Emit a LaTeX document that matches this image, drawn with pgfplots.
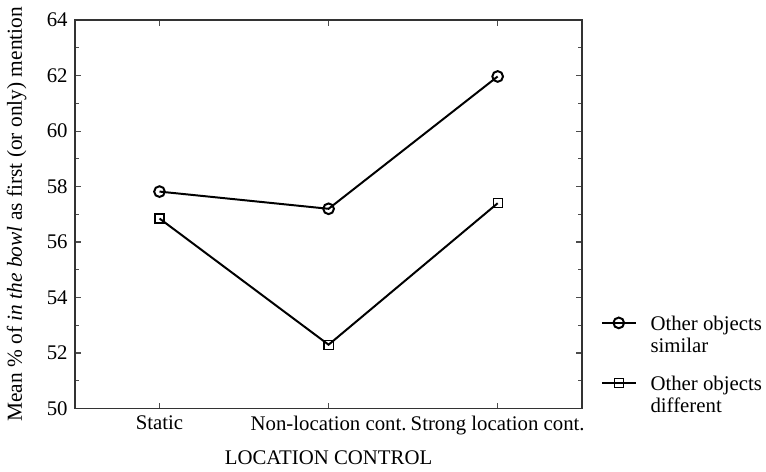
\documentclass[border=0pt]{standalone}
\usepackage{fontspec}
\setmainfont{Liberation Serif}
\usepackage{pgfplots}
\pgfplotsset{compat=1.18}

\pgfplotstableread{
x  y
0  57.82
1  57.20
2  61.97
}\similar
\pgfplotstableread{
x  y
0  56.85
1  52.30
2  57.40
}\different

% two-line legend text, baseline on the first line
\newcommand{\entry}[2]{\begin{tabular}[t]{@{\hspace{5pt}}l@{}}#1\\[-1pt]#2\end{tabular}}

\begin{document}
\fontsize{10.5}{12.5}\selectfont
\begin{tikzpicture}
\begin{axis}[
    scale only axis,
    width=256pt, height=196pt,
    xmin=-0.5, xmax=2.5,
    ymin=50, ymax=64,
    xtick={0,1,2},
    xticklabels={Static, Non-location cont., Strong location cont.},
    ytick={50,52,...,64},
    minor y tick num=1,
    tick align=inside,
    major tick length=3pt, minor tick length=2pt,
    every tick/.style={black!70, line width=0.6pt},
    axis line style={black!80, line width=0.9pt},
    /pgf/number format/assume math mode=true,
    ylabel={Mean \% of \textit{in the bowl} as first (or only) mention},
    ylabel style={yshift=3pt, font=\fontsize{10.8}{12}\selectfont},
    xlabel={LOCATION CONTROL},
    xlabel style={yshift=-1pt},
    legend style={at={(1.036,0.258)}, anchor=north west, draw=none, fill=none,
        inner sep=0pt, row sep=16pt},
    legend cell align=left,
]
\addplot[black, line width=1pt, mark=o, mark size=2.7pt, mark options={line width=1pt}]
    table[x=x, y=y] {\similar};
\addplot[black, line width=1pt, mark=square, mark size=2.3pt, mark options={fill=white, line width=0.6pt}]
    table[x=x, y=y] {\different};
\legend{\entry{Other objects}{similar}, \entry{Other objects}{different}}
\end{axis}
\end{tikzpicture}
\end{document}
